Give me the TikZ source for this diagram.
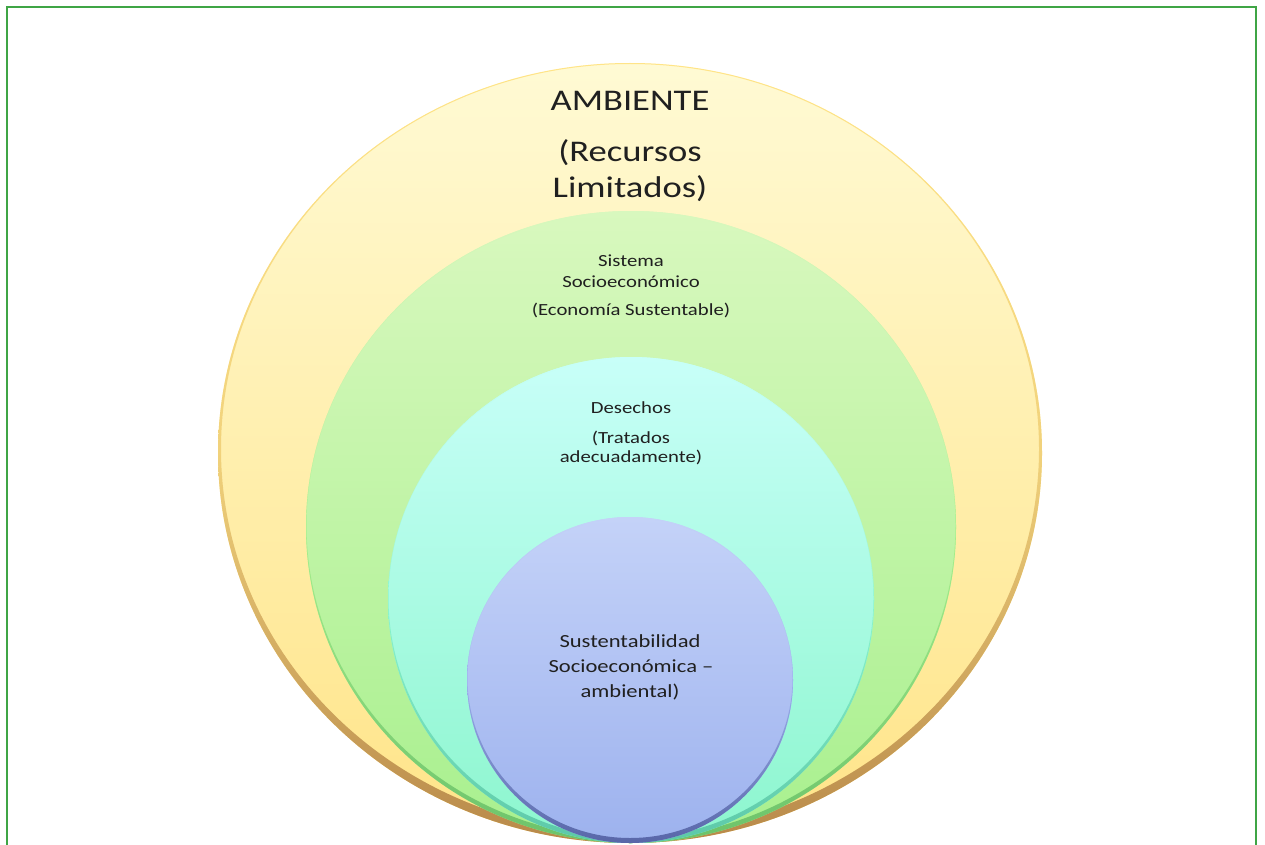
\documentclass[tikz,border=0pt]{standalone}
\usepackage{fontspec}
\setmainfont{Carlito}
\newfontfamily\widefont[FakeStretch=1.22]{Carlito}
\definecolor{framegreen}{HTML}{3FA545}
\definecolor{ytop}{HTML}{FFFAD4}
\definecolor{ybot}{HTML}{FFE488}
\definecolor{yrim}{HTML}{B8894A}
\definecolor{gtop}{HTML}{D8F8BE}
\definecolor{gbot}{HTML}{A8F08E}
\definecolor{grim}{HTML}{6CC26A}
\definecolor{ctop}{HTML}{C8FFF8}
\definecolor{cbot}{HTML}{8CF6CE}
\definecolor{crim}{HTML}{5CC8A8}
\definecolor{btop}{HTML}{C4D2F8}
\definecolor{bbot}{HTML}{9DB2EE}
\definecolor{brim}{HTML}{5866A8}
\definecolor{txt}{HTML}{202020}
\tikzset{
  lbl/.style={text=txt, inner sep=0pt, anchor=base},
  big/.style={lbl, font=\widefont\fontsize{30}{35}\selectfont},
  mid/.style={lbl, font=\widefont\fontsize{17}{20}\selectfont},
  sml/.style={lbl, font=\widefont\fontsize{18.5}{24}\selectfont},
}
\begin{document}
\begin{tikzpicture}[x=1pt,y=-1pt]
\useasboundingbox (0,0) rectangle (1265,845);
\begin{scope}
\clip (0,0) rectangle (1265,845);
\draw[framegreen, line width=2.5pt] (7,7) rectangle (1256,870);
% outer ellipse: ambiente
\shade[top color=ytop, bottom color=ybot] (630,453) ellipse [x radius=412pt, y radius=390pt];
\shade[even odd rule, top color=ybot, bottom color=yrim, middle color=ybot!80!yrim]
  (630,453) ellipse [x radius=412pt, y radius=390pt]
  (630,449) ellipse [x radius=409pt, y radius=385pt];
% green: sistema socioeconomico
\shade[top color=gtop, bottom color=gbot] (631,527) ellipse [x radius=325pt, y radius=316pt];
\shade[even odd rule, top color=gtop, bottom color=grim, middle color=gbot]
  (631,527) ellipse [x radius=325pt, y radius=316pt]
  (631,525) ellipse [x radius=324.5pt, y radius=313pt];
% cyan: desechos
\shade[top color=ctop, bottom color=cbot] (631,600) ellipse [x radius=243pt, y radius=243pt];
\shade[even odd rule, top color=ctop, bottom color=crim, middle color=cbot]
  (631,600) ellipse [x radius=243pt, y radius=243pt]
  (631,598) ellipse [x radius=242.5pt, y radius=240pt];
% blue: sustentabilidad
\shade[top color=btop, bottom color=bbot] (630,680) ellipse [x radius=163pt, y radius=163pt];
\shade[even odd rule, top color=btop, bottom color=brim, middle color=bbot]
  (630,680) ellipse [x radius=163pt, y radius=163pt]
  (630,678) ellipse [x radius=162.5pt, y radius=160pt];
\end{scope}
% texts
\node[big] (amb) at (630,111) {AMBIENTE};
\node[big] (rec) at (630,162) {(Recursos};
\node[big] (lim) at (630,197) {Limitados)};
\node[mid] (sis) at (631,266) {Sistema};
\node[mid] (soe) at (631,287) {Socioeconómico};
\node[mid] (eco) at (631,315) {(Economía Sustentable)};
\node[mid] (des) at (631,413) {Desechos};
\node[mid] (tra) at (631,443) {(Tratados};
\node[mid] (ade) at (631,462) {adecuadamente)};
\node[sml] (sus) at (630,647) {Sustentabilidad};
\node[sml] (soc) at (631,672) {Socioeconómica –};
\node[sml] (amt) at (630,697) {ambiental)};
\end{tikzpicture}
\end{document}
